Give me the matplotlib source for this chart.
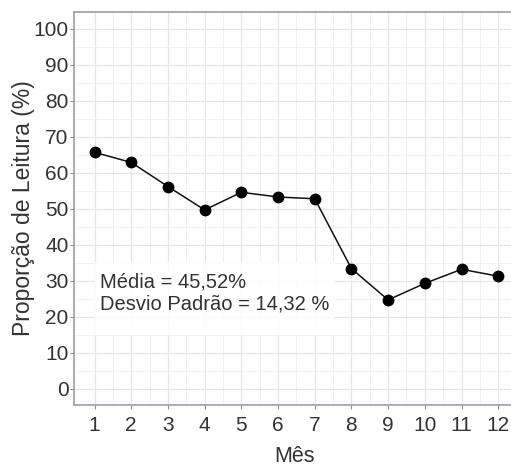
import matplotlib.pyplot as plt
import numpy as np
from matplotlib.patches import Rectangle

plt.rcParams['font.family'] = ['Liberation Sans', 'DejaVu Sans']

meses = [1, 2, 3, 4, 5, 6, 7, 8, 9, 10, 11, 12]
proporcao = [65.7, 62.9, 56.2, 49.7, 54.6, 53.3, 52.8, 33.4, 24.7, 29.3, 33.2, 31.3]
yticks = [0, 10, 20, 30, 40, 50, 60, 70, 80, 90, 100]
texto = 'Média = 45,52%\nDesvio Padrão = 14,32 %'

fig = plt.figure(figsize=(5.11, 4.66), dpi=100)
ax = fig.add_axes([74 / 511, 1 - 405 / 466, 440 / 511, 393 / 466])

ax.plot(meses, proporcao, color='#111111', lw=1.1, marker='o', ms=7.5,
        markerfacecolor='black', markeredgecolor='black', zorder=3)

ax.set_xlim(0.44, 12.43)
ax.set_ylim(-4.5, 104.7)
ax.set_xticks(meses)
ax.set_yticks(yticks)
ax.set_xticks(np.arange(1.5, 12, 1), minor=True)
ax.set_yticks(np.arange(5, 101, 10), minor=True)
ax.grid(which='major', color='#e6e6e6', lw=0.9)
ax.grid(which='minor', color='#f1f1f1', lw=0.7)
ax.set_axisbelow(True)

for s in ['left', 'bottom', 'top', 'right']:
    ax.spines[s].set_color('#9d9ab5')
    ax.spines[s].set_linewidth(1.2)

ax.tick_params(which='major', labelsize=15, labelcolor='#333333', color='#888888', length=3)
ax.tick_params(axis='y', pad=1)
ax.tick_params(axis='x', pad=5)
ax.tick_params(which='minor', length=0)
ax.set_xlabel('Mês', fontsize=15.5, color='#333333', labelpad=7.5)
ax.set_ylabel('Proporção de Leitura (%)', fontsize=16.5, color='#333333', labelpad=-1)

# caixa da anotação
ax.add_patch(Rectangle((1.01, 15.0), 6.55, 20.3, facecolor='white', edgecolor='none',
                       alpha=0.85, zorder=4))
ax.text(1.15, 26.6, texto, fontsize=14.5, color='#333333', va='center', ha='left',
        linespacing=1.15, zorder=5)

fig.savefig('out.png', dpi=100)
